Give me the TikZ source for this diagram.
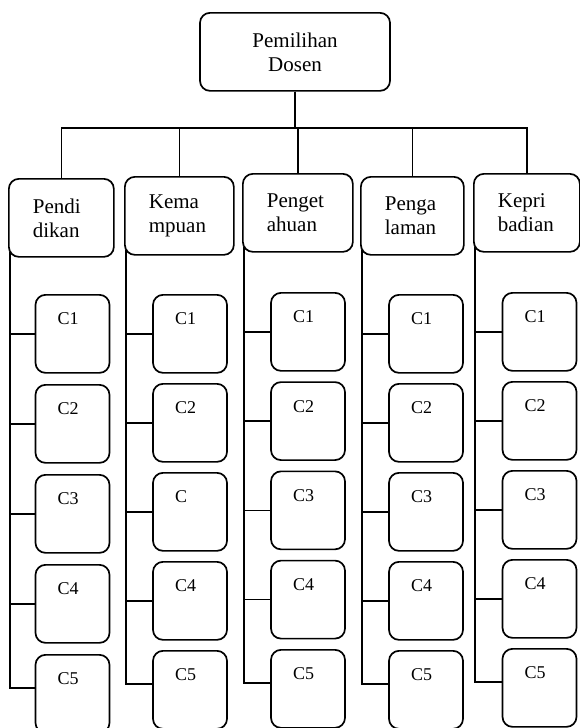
\documentclass[tikz,border=0pt]{standalone}
\usepackage{fontspec}
\setmainfont{Liberation Serif}
\usetikzlibrary{calc,positioning}

\tikzset{
  goalbox/.style={draw,rectangle,rounded corners=10pt,line width=1.7pt,minimum width=190pt,minimum height=78pt,align=center,font=\fontsize{21}{24}\selectfont},
  critbox/.style={draw,rectangle,rounded corners=10pt,line width=1.7pt,minimum height=78pt,inner xsep=24pt,inner ysep=0pt,align=left,font=\fontsize{21}{24}\selectfont},
  subbox/.style={draw,rectangle,rounded corners=10pt,line width=1.7pt,text width=30pt,inner xsep=22pt,inner ysep=0pt,text height=30pt,text depth=48pt,align=left,font=\fontsize{18}{20}\selectfont},
  link/.style={line width=1.7pt}
}

\begin{document}
\begin{tikzpicture}[x=1pt,y=-1pt]

  \useasboundingbox (0,0) rectangle (580,728);

  \node [goalbox,anchor=north] at($(295,12)$) (goal) {Pemilihan\\Dosen};

  \foreach \n/\txt/\xl/\yl/\w/\xc/\yc/\s in {
      0/{Pendi\\dikan}/8/178/105/72.5/294/90,
      1/{Kema\\mpuan}/124/176/109/190/294/89,
      2/{Penget\\ahuan}/242/173/110/308/292/89.25,
      3/{Penga\\laman}/360/176/103/426/294/89,
      4/{Kepri\\badian}/473/173/106/539.5/292/89}
  {

    \pgfmathsetmacro\tw{\w-48}
    \node [critbox,text width=\tw pt,anchor=north west] at($(\xl,\yl)$) (crit_\n) {\txt};
    \draw [link] (goal.south) -- ++(0,36) -| (crit_\n.north);

    \coordinate (spine_\n) at($(crit_\n.south west)+(2,-6)$);
%    \node [below] (spine_\n) at($(crit_\n.south west)$) {};

    \foreach \y in {1,...,5}{
      \def\lbl{C\y}
      \ifnum\n=1 \ifnum\y=3 \def\lbl{C}\fi\fi
      \node [subbox,anchor=north] at($(\xc,\yc)+(0,{(\y-1)*\s})$) (crit_\n_sub_\y) {\lbl};
      \ifnum\y<5
        \draw [link] (crit_\n_sub_\y.west) -- (crit_\n_sub_\y.west -| spine_\n);
      \else
        \draw [link] (spine_\n) |- ([yshift=6pt]crit_\n_sub_\y.west);
      \fi
    }

  }

\end{tikzpicture}
\end{document}
